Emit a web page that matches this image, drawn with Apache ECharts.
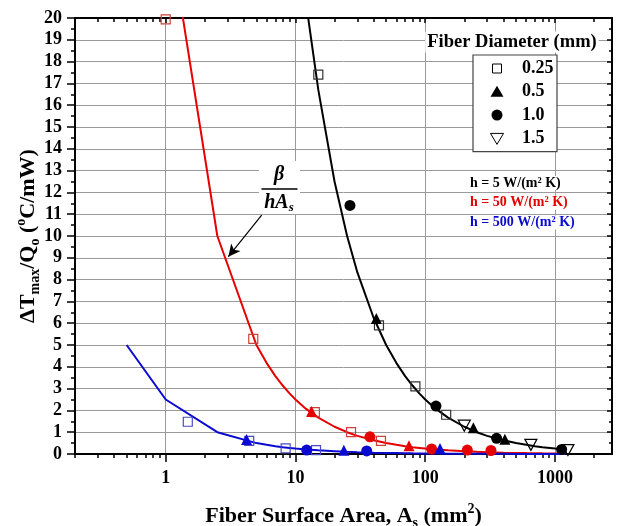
<!DOCTYPE html>
<html>
<head>
<meta charset="utf-8">
<script src="https://cdn.jsdelivr.net/npm/echarts@6/dist/echarts.min.js"></script>
<style>
  html, body { margin: 0; padding: 0; background: #fff; }
  #chart { width: 617px; height: 526px; }
</style>
</head>
<body>
<div id="chart"></div>
<script>
// Fiber surface area (mm^2) vs normalised peak temperature rise
const majorTicks = [1, 10, 100, 1000];
const minorTicks = [0.2, 0.3, 0.4, 0.5, 0.6, 0.7, 0.8, 0.9,
  2, 3, 4, 5, 6, 7, 8, 9, 20, 30, 40, 50, 60, 70, 80, 90,
  200, 300, 400, 500, 600, 700, 800, 900, 2000];
const yTicks = [0, 1, 2, 3, 4, 5, 6, 7, 8, 9, 10, 11, 12, 13, 14, 15, 16, 17, 18, 19, 20];

// beta/(h*As) curves, one vertex per area value
const curveArea = [0.5, 1, 2.5, 5, 6, 7, 8, 9, 10, 12, 15, 20, 25, 30, 40, 50, 60, 70, 80, 90,
  100, 120, 150, 200, 250, 300, 400, 500, 600, 700, 800, 1000, 1200];
const curveH5 = [500, 250, 100, 50, 41.7, 35.7, 31.3, 27.8, 25, 20.8, 16.7, 12.5, 10, 8.33, 6.25, 5,
  4.17, 3.57, 3.13, 2.78, 2.5, 2.08, 1.67, 1.25, 1, 0.83, 0.63, 0.5, 0.42, 0.36, 0.31, 0.25, 0.21];
const curveH50 = [50, 25, 10, 5, 4.17, 3.57, 3.13, 2.78, 2.5, 2.08, 1.67, 1.25, 1, 0.83, 0.63, 0.5,
  0.42, 0.36, 0.31, 0.28, 0.25, 0.21, 0.17, 0.13, 0.1, 0.083, 0.063, 0.05, 0.042, 0.036, 0.031, 0.025, 0.021];
const curveH500 = [5, 2.5, 1, 0.5, 0.42, 0.36, 0.31, 0.28, 0.25, 0.21, 0.17, 0.13, 0.1, 0.083, 0.063, 0.05,
  0.042, 0.036, 0.031, 0.028, 0.025, 0.021, 0.017, 0.013, 0.01, 0.008, 0.006, 0.005, 0.004, 0.004, 0.003, 0.003, 0.002];

// simulated points: [area, dT/Q0] per fiber diameter
const h5_d025 = [[15, 17.4], [44, 5.9], [84, 3.1], [145, 1.8]];
const h5_d05 = [[42, 6.22], [235, 1.2], [411, 0.68]];
const h5_d10 = [[26.3, 11.4], [121, 2.2], [355, 0.72], [1125, 0.21]];
const h5_d15 = [[200, 1.3], [652, 0.42], [1258, 0.18]];

const h50_d025 = [[1.0, 19.94], [4.73, 5.28], [14.1, 1.92], [26.8, 1.0], [45.6, 0.6]];
const h50_d05 = [[13.3, 1.95], [75, 0.38]];
const h50_d10 = [[37.5, 0.79], [112, 0.23], [211, 0.18], [321, 0.16]];

const h500_d025 = [[1.48, 1.48], [4.4, 0.6], [8.4, 0.26], [14.4, 0.18]];
const h500_d05 = [[4.2, 0.66], [23.6, 0.17], [130, 0.25]];
const h500_d10 = [[12.2, 0.18], [35.4, 0.14]];

const diameters = ['0.25', '0.5', '1.0', '1.5'];
const hLabels = ['h = 5 W/(m\u00B2 K)', 'h = 50 W/(m\u00B2 K)', 'h = 500 W/(m\u00B2 K)'];

const BLACK = '#000000', RED = '#e60000', BLUE = '#0a0ad0';
const SERIF = '"Liberation Serif", "Times New Roman", serif';
const downTri = 'path://M0,0 L10,0 L5,9 Z';

function zip(xs, ys) { return xs.map((x, i) => [x, ys[i]]); }

function curve(name, vals, color, extra) {
  return Object.assign({
    name, type: 'line', data: zip(curveArea, vals), showSymbol: false, symbol: 'none',
    lineStyle: { color, width: 2 }, z: 3, clip: true, silent: true, animation: false
  }, extra || {});
}
function pts(data, kind, color, edge) {
  const s = { type: 'scatter', data, z: 5, animation: false, silent: true };
  if (kind === 'sq') {
    s.symbol = 'rect'; s.symbolSize = 9;
    s.itemStyle = { color: 'rgba(255,255,255,0)', borderColor: edge || color, borderWidth: 1.2, opacity: 1 };
  } else if (kind === 'tri') {
    s.symbol = 'triangle'; s.symbolSize = 11; s.itemStyle = { color, opacity: 1 };
  } else if (kind === 'dot') {
    s.symbol = 'circle'; s.symbolSize = 11; s.itemStyle = { color, opacity: 1 };
  } else {
    s.symbol = downTri; s.symbolSize = [12, 11];
    s.itemStyle = { color: 'rgba(255,255,255,0)', borderColor: color, borderWidth: 1.2, opacity: 1 };
  }
  return s;
}

function logAxis(pos, ticks, len, inside, main) {
  return {
    type: 'log', logBase: 10, min: 0.2, max: 2750, position: pos,
    axisLine: { show: main, lineStyle: { color: '#000', width: 2 } },
    axisTick: { show: true, customValues: ticks, length: len, inside, lineStyle: { color: '#000', width: 1.5 } },
    axisLabel: main && pos === 'bottom'
      ? { show: true, customValues: majorTicks, margin: 15, color: '#000',
          fontFamily: SERIF, fontWeight: 'bold', fontSize: 18,
          formatter: v => String(Math.round(v)) }
      : { show: false },
    splitLine: main && pos === 'bottom'
      ? { show: true, lineStyle: { color: '#9a9a9a', width: 1 } } : { show: false },
    minorTick: { show: false }, minorSplitLine: { show: false }
  };
}

const chart = echarts.init(document.getElementById('chart'), null, { renderer: 'canvas' });

const option = {
  backgroundColor: '#fff',
  animation: false,
  grid: { left: 75, right: 5, top: 18, bottom: 72, containLabel: false, outerBoundsMode: 'none' },
  xAxis: [
    Object.assign(logAxis('bottom', majorTicks, 8, false, true), {
      name: '{b|Fiber Surface Area, A}{sub|s}{b| (mm}{sup|2}{b|)}',
      nameLocation: 'middle', nameGap: 48, nameMoveOverlap: false,
      nameTextStyle: {
        rich: {
          b: { fontFamily: SERIF, fontWeight: 'bold', fontSize: 22, color: '#000', lineHeight: 28 },
          sub: { fontFamily: SERIF, fontWeight: 'bold', fontSize: 14, color: '#000', lineHeight: 14, verticalAlign: 'bottom' },
          sup: { fontFamily: SERIF, fontWeight: 'bold', fontSize: 14, color: '#000', lineHeight: 14, verticalAlign: 'top' }
        }
      }
    }),
    logAxis('bottom', minorTicks, 4, false, false),
    logAxis('top', majorTicks, 5, true, true),
    logAxis('top', minorTicks, 4, true, false)
  ],
  yAxis: [
    {
      type: 'value', min: 0, max: 20, interval: 1, position: 'left',
      axisLine: { show: true, lineStyle: { color: '#000', width: 2 } },
      axisTick: { show: true, length: 8, lineStyle: { color: '#000', width: 1.5 } },
      minorTick: { show: true, splitNumber: 2, length: 4, lineStyle: { color: '#000', width: 1.5 } },
      axisLabel: { show: true, customValues: yTicks, margin: 13, color: '#000', fontFamily: SERIF, fontWeight: 'bold', fontSize: 18 },
      splitLine: { show: true, lineStyle: { color: '#9a9a9a', width: 1 } },
      name: '{b|\u0394T}{sub|max}{b|/Q}{sub|o}{b| (}{sup|o}{b|C/mW)}',
      nameLocation: 'middle', nameRotate: 90, nameGap: 33, nameMoveOverlap: false,
      nameTextStyle: {
        rich: {
          b: { fontFamily: SERIF, fontWeight: 'bold', fontSize: 22, color: '#000', lineHeight: 28 },
          sub: { fontFamily: SERIF, fontWeight: 'bold', fontSize: 14, color: '#000', lineHeight: 14, verticalAlign: 'bottom' },
          sup: { fontFamily: SERIF, fontWeight: 'bold', fontSize: 14, color: '#000', lineHeight: 14, verticalAlign: 'top' }
        }
      }
    },
    {
      type: 'value', min: 0, max: 20, interval: 1, position: 'right',
      axisLine: { show: true, lineStyle: { color: '#000', width: 2 } },
      axisTick: { show: true, inside: true, length: 5, lineStyle: { color: '#000', width: 1.5 } },
      minorTick: { show: true, splitNumber: 2, length: 3, lineStyle: { color: '#000', width: 1.5 } },
      axisLabel: { show: false }, splitLine: { show: false }
    }
  ],
  series: [
    curve('h5', curveH5, BLACK),
    curve('h50', curveH50, RED, {
      markLine: {
        silent: true, animation: false, symbolSize: [9, 12],
        lineStyle: { color: '#000', width: 1.2, type: 'solid' },
        label: { show: false },
        data: [[{ coord: [5.49, 10.96], symbol: 'none' }, { coord: [3.04, 9.05], symbol: 'arrow' }]]
      }
    }),
    curve('h500', curveH500, BLUE),

    pts(h5_d025, 'sq', BLACK, '#333'),
    pts(h5_d05, 'tri', BLACK),
    pts(h5_d10, 'dot', BLACK),
    pts(h5_d15, 'dtri', BLACK),

    pts(h50_d025, 'sq', RED, '#d0403a'),
    pts(h50_d05, 'tri', RED),
    pts(h50_d10, 'dot', RED),

    pts(h500_d025, 'sq', BLUE, '#4a4ac8'),
    pts(h500_d05, 'tri', BLUE),
    pts(h500_d10, 'dot', BLUE)
  ]
};

chart.setOption(option);

// annotations: legend box, h labels, fraction label
const legendX = 473, legendY = 55, rowH = 23.3;
const legendItems = [];
diameters.forEach((d, i) => {
  const cy = legendY + 13.5 + i * rowH, cx = 497;
  let shape;
  if (i === 0) shape = { type: 'rect', shape: { x: cx - 4.5, y: cy - 4.5, width: 9, height: 9 }, style: { fill: '#fff', stroke: '#000', lineWidth: 1 } };
  else if (i === 1) shape = { type: 'polygon', shape: { points: [[cx, cy - 6], [cx - 6.5, cy + 5], [cx + 6.5, cy + 5]] }, style: { fill: '#000' } };
  else if (i === 2) shape = { type: 'circle', shape: { cx, cy, r: 5.5 }, style: { fill: '#000' } };
  else shape = { type: 'polygon', shape: { points: [[cx - 6.5, cy - 5], [cx + 6.5, cy - 5], [cx, cy + 6]] }, style: { fill: '#fff', stroke: '#000', lineWidth: 1 } };
  legendItems.push(shape);
  legendItems.push({
    type: 'text', x: 522, y: cy,
    style: { text: d, fontFamily: SERIF, fontWeight: 'bold', fontSize: 18, fill: '#000', verticalAlign: 'middle', align: 'left' }
  });
});

const hColors = [BLACK, RED, BLUE];
const hTexts = hLabels.map((t, i) => ({
  type: 'text', x: 470, y: 183 + i * 19.8,
  style: {
    text: t, fontFamily: SERIF, fontWeight: 'bold', fontSize: 14, fill: hColors[i],
    verticalAlign: 'middle', align: 'left', backgroundColor: '#fff'
  }
}));

chart.setOption({
  graphic: [
    {
      type: 'text', x: 512, y: 42, z: 20,
      style: {
        text: 'Fiber Diameter (mm)', fontFamily: SERIF, fontWeight: 'bold', fontSize: 18.5, fill: '#000',
        align: 'center', verticalAlign: 'middle', backgroundColor: '#fff', padding: [1, 2]
      }
    },
    {
      type: 'group', z: 20, children: [
        { type: 'rect', shape: { x: legendX, y: legendY, width: 84, height: 96.7 }, style: { fill: '#fff', stroke: '#444', lineWidth: 1.2 } }
      ].concat(legendItems)
    },
    { type: 'group', z: 20, children: hTexts },
    {
      type: 'group', z: 20, children: [
        { type: 'rect', shape: { x: 259, y: 161, width: 41, height: 53 }, style: { fill: '#fff' } },
        { type: 'text', x: 279, y: 175, style: { text: '\u03B2', fontFamily: SERIF, fontWeight: 'bold', fontStyle: 'italic', fontSize: 20, fill: '#000', align: 'center', verticalAlign: 'middle' } },
        { type: 'line', shape: { x1: 261.5, y1: 189, x2: 297.5, y2: 189 }, style: { stroke: '#000', lineWidth: 1.6 } },
        {
          type: 'text', x: 279, y: 203,
          style: {
            text: '{i|hA}{s|s}', align: 'center', verticalAlign: 'middle',
            rich: {
              i: { fontFamily: SERIF, fontWeight: 'bold', fontStyle: 'italic', fontSize: 20, fill: '#000', lineHeight: 22 },
              s: { fontFamily: SERIF, fontWeight: 'bold', fontStyle: 'italic', fontSize: 13, fill: '#000', lineHeight: 12, verticalAlign: 'bottom' }
            }
          }
        }
      ]
    }
  ]
});
</script>
</body>
</html>
